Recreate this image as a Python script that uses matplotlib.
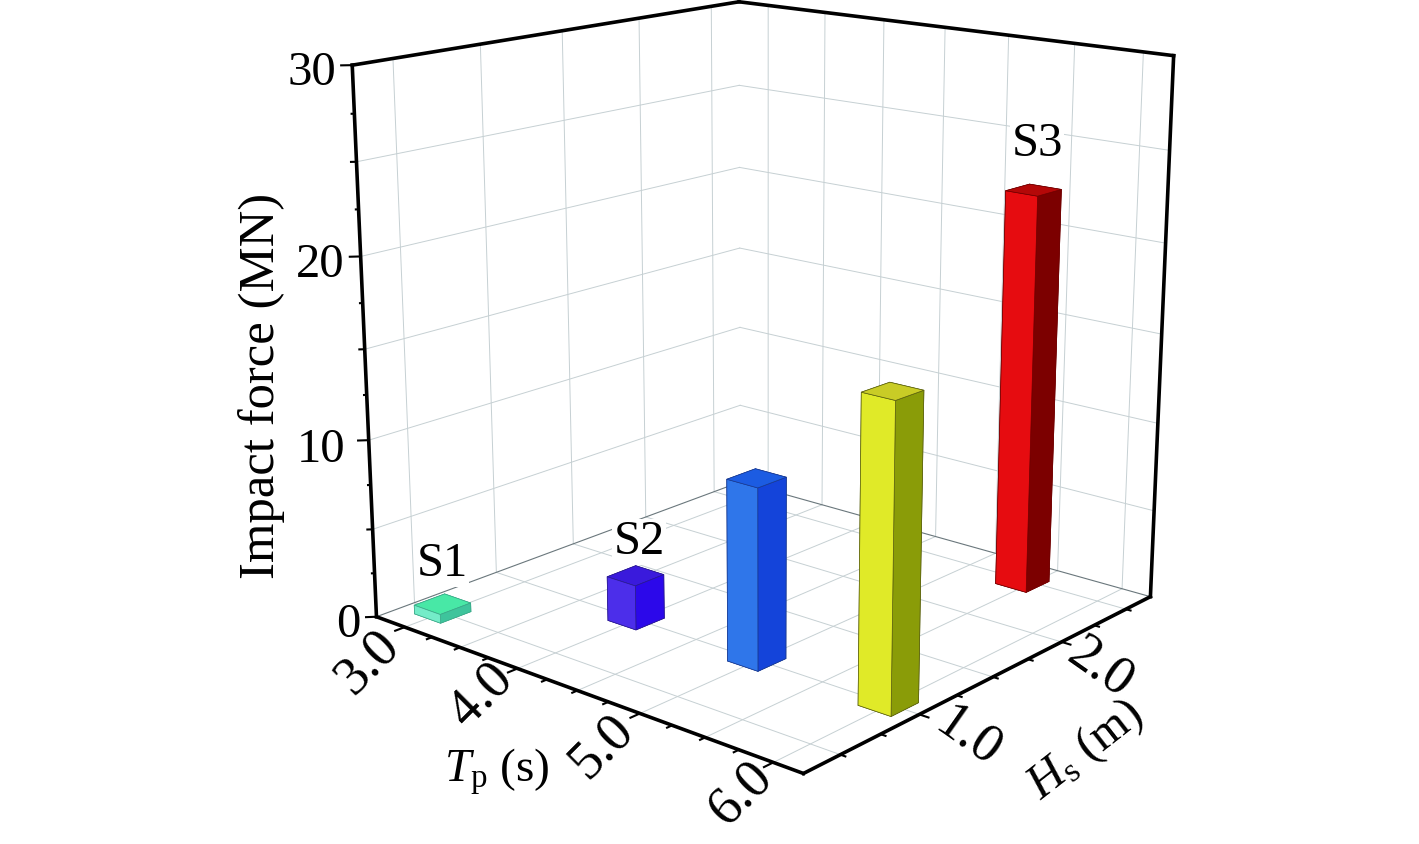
import numpy as np
import matplotlib
matplotlib.use("Agg")
import matplotlib.pyplot as plt

plt.rcParams['font.family'] = ['Liberation Serif', 'DejaVu Serif']
plt.rcParams['mathtext.fontset'] = 'custom'
plt.rcParams['mathtext.rm'] = 'Liberation Serif'
plt.rcParams['mathtext.it'] = 'Liberation Serif:italic'

# Bars
bar_names = ["S1", "S2", "", "", "S3"]
tp_values = [3.0, 3.995, 4.99, 5.99, 5.45]
hs_values = [0.5, 1.0, 1.0, 1.0, 2.47]
force_values = [0.5, 2.5, 9.9, 16.2, 22.4]

# (top, left face, right face)
bar_colors = [
    ("#48e8a6", "#74ecc8", "#3ec49c"),
    ("#3a1adc", "#4c2eea", "#2c08ea"),
    ("#1c5ce2", "#2f76ea", "#1444da"),
    ("#c9cc26", "#e0ea28", "#8a9c08"),
    ("#b40808", "#e60c10", "#7c0000"),
]
bar_edges = ["#3aa888", "#2a1a90", "#1a3a90", "#5a6010", "#700000"]

# Axes
tp_lim = (2.736, 6.214)
hs_lim = (0.278, 2.70)
force_lim = (0, 30)
tp_ticks = [3.0, 4.0, 5.0, 6.0]
hs_ticks = [1.0, 2.0]
force_ticks = [0, 10, 20, 30]

grid_c = "#c6d0d3"
edge_c = "#6a777c"

W, H = 1419, 844
fig = plt.figure(figsize=(W / 100, H / 100), dpi=100)
ax = fig.add_subplot(projection="3d", computed_zorder=False)
ax.set_axis_off()
ax.set_xlim(*tp_lim)
ax.set_ylim(*hs_lim)
ax.set_zlim(*force_lim)
ax.set_proj_type("persp", focal_length=0.5005)
ax.view_init(elev=15.66, azim=-49.29)
ax.set_box_aspect((1.0013, 0.9919, 1.0))

# put the view on the page (scale and origin of the projected picture, in pixels)
view_scale, view_x, view_y = 5139.9, 767.38, 341.6
ax.set_position([0, 0, 1, W / H])
ax.apply_aspect()
pts = ax.transData.transform([(0, 0), (1, 0)])
side = W * view_scale / (pts[1, 0] - pts[0, 0])
left = view_x - pts[0, 0] / W * side
bottom = (H - view_y) - pts[0, 1] / W * side
ax.set_position([left / W, bottom / H, side / W, side / H])

x0, x1 = tp_lim
y0, y1 = hs_lim
z0, z1 = force_lim


def line(xs, ys, zs, color="black", lw=2.6, zorder=1):
    ax.plot(xs, ys, zs, color=color, lw=lw, zorder=zorder, clip_on=False,
            solid_capstyle="projecting")


# grid
for t in np.arange(3.0, 6.01, 0.5):
    line([t, t], [y0, y1], [0, 0], grid_c, 0.7)
    line([t, t], [y1, y1], [z0, z1], grid_c, 0.7)
for h in np.arange(0.5, 2.51, 0.5):
    line([x0, x1], [h, h], [0, 0], grid_c, 0.7)
    line([x0, x0], [h, h], [z0, z1], grid_c, 0.7)
for f in range(5, 30, 5):
    line([x0, x0], [y0, y1], [f, f], grid_c, 0.7)
    line([x0, x1], [y1, y1], [f, f], grid_c, 0.7)
line([x0, x0], [y0, y1], [0, 0], edge_c, 0.8)
line([x0, x1], [y1, y1], [0, 0], edge_c, 0.8)

# bars
bar_w = 0.24
bar_d = 0.18
for i in range(len(force_values)):
    top, lf, rf = bar_colors[i]
    # face order of bar3d: -z, +z, -y, +y, -x, +x
    ax.bar3d(tp_values[i] - bar_w / 2, hs_values[i] - bar_d / 2, 0,
             bar_w, bar_d, force_values[i],
             color=[lf, top, lf, rf, lf, rf], shade=False,
             edgecolor=bar_edges[i], linewidth=0.5, zorder=2)

# box
for xs, ys, zs in [([x0, x1], [y0, y0], [0, 0]),
                   ([x1, x1], [y0, y1], [0, 0]),
                   ([x0, x0], [y0, y0], [z0, z1]),
                   ([x1, x1], [y1, y1], [z0, z1]),
                   ([x0, x0], [y0, y1], [z1, z1]),
                   ([x0, x1], [y1, y1], [z1, z1])]:
    line(xs, ys, zs, zorder=3)

# ticks
for t in np.arange(3.0, 6.21, 0.25):
    d = 0.055 if abs(t - round(t)) < 1e-6 else 0.03
    line([t, t], [y0, y0 - d], [0, 0], lw=1.5, zorder=3)
for h in np.arange(0.5, 2.51, 0.25):
    d = 0.065 if abs(h - round(h)) < 1e-6 else 0.035
    line([x1, x1 + d], [h, h], [0, 0], lw=1.5, zorder=3)
for f in np.arange(0, 30.1, 2.5):
    n = 10 if f % 10 == 0 else 5 if f % 5 == 0 else 2.5
    line([x0, x0 - n / 227], [y0, y0 - n * 0.0033], [f, f], lw=1.5, zorder=3)


def label(px, py, s, size=35, rot=0, ha="center", va="center", **kw):
    fig.text(px / W, 1 - py / H, s, fontsize=size, rotation=rot, ha=ha, va=va,
             rotation_mode="anchor", **kw)


# tick labels
for s, (px, py) in zip(force_ticks, [(360, 625), (345, 450), (344, 265), (336, 73)]):
    label(px, py, str(s), ha="right")
for v, (px, py) in zip(tp_ticks, [(367, 662), (481, 695), (602, 746), (741, 793)]):
    label(px, py, f"{v:.1f}", size=39, rot=45)
for v, (px, py) in zip(hs_ticks, [(968, 737), (1100, 668)]):
    label(px, py, f"{v:.1f}", size=39, rot=-35)

# axis titles
label(262, 386, "Impact force (MN)", size=36.5, rot=90)
label(444, 782, r"$T_{\mathrm{p}}$ (s)", size=34, ha="left", va="baseline")
label(1085, 750, r"$H_{\mathrm{s}}$ (m)", rot=38)

# bar names
name_pos = [(442, 564), (639, 542), None, None, (1037, 144)]
for s, p in zip(bar_names, name_pos):
    if p:
        label(p[0], p[1], s, bbox=dict(fc="white", ec="none", pad=1))

fig.savefig("out.png", dpi=100)
